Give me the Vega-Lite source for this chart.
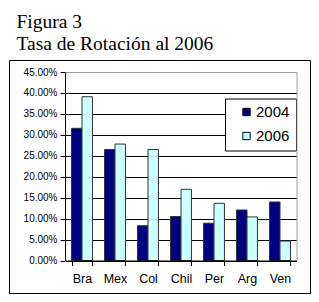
{
  "$schema": "https://vega.github.io/schema/vega-lite/v6.json",
  "width": 301,
  "height": 233,
  "autosize": {"type": "none"},
  "padding": {"left": 9, "top": 60, "right": 9, "bottom": 9},
  "background": "white",
  "title": {
    "text": ["Figura 3", "Tasa de Rotación al 2006"],
    "anchor": "start",
    "frame": "group",
    "font": "Liberation Serif",
    "fontSize": 19.5,
    "fontWeight": "normal",
    "color": "black",
    "lineHeight": 21.7,
    "dx": 7.5,
    "offset": -89.5
  },
  "data": {
    "values": [
      {"country": "Bra", "year": "2004", "rate": 0.3156},
      {"country": "Bra", "year": "2006", "rate": 0.391},
      {"country": "Mex", "year": "2004", "rate": 0.265},
      {"country": "Mex", "year": "2006", "rate": 0.278},
      {"country": "Col", "year": "2004", "rate": 0.083},
      {"country": "Col", "year": "2006", "rate": 0.265},
      {"country": "Chil", "year": "2004", "rate": 0.105},
      {"country": "Chil", "year": "2006", "rate": 0.17},
      {"country": "Per", "year": "2004", "rate": 0.089},
      {"country": "Per", "year": "2006", "rate": 0.1365},
      {"country": "Arg", "year": "2004", "rate": 0.1205},
      {"country": "Arg", "year": "2006", "rate": 0.104},
      {"country": "Ven", "year": "2004", "rate": 0.1397},
      {"country": "Ven", "year": "2006", "rate": 0.0465}
    ]
  },
  "layer": [
    {
      "mark": {"type": "bar", "opacity": 0},
      "encoding": {
        "x": {
          "field": "country", "type": "nominal", "sort": null,
          "axis": {"orient": "top", "offset": -12, "title": null, "labels": false, "ticks": false, "grid": false, "domainColor": "#a0a0a0", "zindex": 1}
        },
        "y": {
          "field": "rate", "type": "quantitative",
          "axis": {"orient": "right", "offset": -13.5, "title": null, "labels": false, "ticks": false, "grid": false, "domainColor": "#a0a0a0", "zindex": 1}
        }
      }
    },
    {
      "mark": {"type": "bar", "stroke": "#333333", "strokeWidth": 1},
      "encoding": {
        "x": {
          "field": "country", "type": "nominal", "sort": null,
          "scale": {"range": [56.5, 287.5], "paddingInner": 0.366, "paddingOuter": 0.183},
          "axis": {
            "orient": "bottom", "offset": -32.5, "title": null, "labelAngle": 0,
            "labelFont": "Liberation Sans", "labelFontSize": 12.5, "labelColor": "black",
            "tickColor": "black", "tickSize": 5, "tickBand": "extent",
            "domainColor": "black", "labelPadding": 7, "grid": false, "zindex": 1
          }
        },
        "xOffset": {"field": "year", "type": "nominal"},
        "y": {
          "field": "rate", "type": "quantitative",
          "scale": {"domain": [0, 0.45], "nice": false, "range": [200.5, 12]},
          "axis": {
            "orient": "left", "offset": -56, "title": null,
            "values": [0, 0.05, 0.1, 0.15, 0.2, 0.25, 0.3, 0.35, 0.4, 0.45],
            "format": ".2%",
            "labelFont": "Liberation Sans", "labelFontSize": 10, "labelColor": "black",
            "tickColor": "black", "tickSize": 5, "labelPadding": 3,
            "domainColor": "black",
            "grid": true,
            "gridColor": {"condition": {"test": "datum.value > 0.44", "value": "#a0a0a0"}, "value": "black"}
          }
        },
        "color": {
          "field": "year", "type": "nominal",
          "scale": {"domain": ["2004", "2006"], "range": ["#000080", "#CCFFFF"]},
          "legend": {
            "orient": "none", "legendX": 216, "legendY": 38.5, "title": null,
            "direction": "vertical", "strokeColor": "black", "fillColor": "white",
            "padding": 6, "symbolOffset": 8, "symbolType": "square", "symbolSize": 54,
            "symbolStrokeColor": "black", "symbolStrokeWidth": 1,
            "labelFont": "Liberation Sans", "labelFontSize": 15, "labelColor": "black",
            "rowPadding": 8, "labelOffset": 2
          }
        }
      }
    }
  ],
  "resolve": {"axis": {"x": "independent", "y": "independent"}},
  "config": {
    "view": {"stroke": "black", "strokeWidth": 1}
  }
}
